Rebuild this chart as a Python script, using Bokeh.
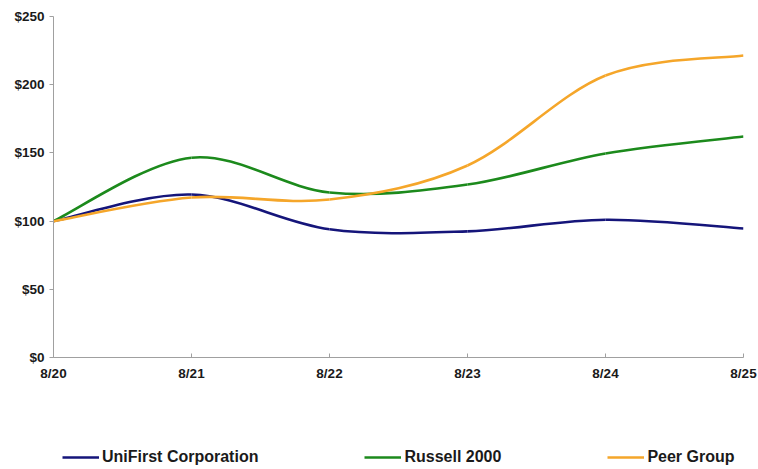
from bokeh.plotting import figure
from bokeh.layouts import column
from bokeh.models import Legend, LegendItem, FixedTicker, Range1d, CustomJSTickFormatter
from bokeh.embed import file_html
from bokeh.resources import INLINE

years = ["8/20", "8/21", "8/22", "8/23", "8/24", "8/25"]
unifirst = [100, 119.5, 94, 92.5, 101, 94.6]
russell = [100, 146.5, 121, 126.8, 149.6, 162]
peer = [100, 117.3, 115.8, 140.8, 206.7, 221.4]
y_ticks = [0, 50, 100, 150, 200, 250]

names = ["UniFirst Corporation", "Russell 2000", "Peer Group"]
colors = ["#15157a", "#1c8a1c", "#f5a62a"]
series = [unifirst, russell, peer]
LINE_W = 2.6

p = figure(width=758, height=400, output_backend="svg", toolbar_location=None,
           x_range=Range1d(0, len(years) - 1), y_range=Range1d(0, 250),
           min_border_left=53, min_border_right=15, min_border_top=16, min_border_bottom=43)
p.outline_line_color = None
p.xgrid.visible = False
p.ygrid.visible = False


def smooth(vals):
    xs = list(range(len(vals)))
    n = len(vals)
    x0, y0, x1, y1, cx0, cy0, cx1, cy1 = [], [], [], [], [], [], [], []
    for i in range(n - 1):
        pm = i - 1 if i > 0 else i
        pp = i + 2 if i + 2 < n else i + 1
        x0.append(xs[i]); y0.append(vals[i])
        x1.append(xs[i + 1]); y1.append(vals[i + 1])
        cx0.append(xs[i] + (xs[i + 1] - xs[pm]) / 6.0)
        cy0.append(vals[i] + (vals[i + 1] - vals[pm]) / 6.0)
        cx1.append(xs[i + 1] - (xs[pp] - xs[i]) / 6.0)
        cy1.append(vals[i + 1] - (vals[pp] - vals[i]) / 6.0)
    return dict(x0=x0, y0=y0, x1=x1, y1=y1, cx0=cx0, cy0=cy0, cx1=cx1, cy1=cy1)


for vals, col in zip(series, colors):
    p.bezier(source=smooth(vals), x0="x0", y0="y0", x1="x1", y1="y1",
             cx0="cx0", cy0="cy0", cx1="cx1", cy1="cy1",
             line_color=col, line_width=LINE_W)

# axes
p.xaxis.ticker = FixedTicker(ticks=list(range(len(years))))
p.xaxis.major_label_overrides = {i: y for i, y in enumerate(years)}
p.xaxis.minor_tick_line_color = None
p.xaxis.major_tick_in = 4
p.xaxis.major_tick_out = 0
p.xaxis.axis_line_color = "#a0a0a0"
p.xaxis.major_tick_line_color = "#a0a0a0"
p.xaxis.major_label_text_font = "Liberation Sans"
p.xaxis.major_label_text_font_style = "bold"
p.xaxis.major_label_text_font_size = "13.5px"
p.xaxis.major_label_text_color = "#1a1a1a"
p.xaxis.major_label_standoff = 8

p.yaxis.ticker = FixedTicker(ticks=y_ticks)
p.yaxis.formatter = CustomJSTickFormatter(code="return '$' + tick;")
p.yaxis.minor_tick_line_color = None
p.yaxis.major_tick_in = 0
p.yaxis.major_tick_out = 4
p.yaxis.axis_line_color = "#a0a0a0"
p.yaxis.major_tick_line_color = "#a0a0a0"
p.yaxis.major_label_text_font = "Liberation Sans"
p.yaxis.major_label_text_font_style = "bold"
p.yaxis.major_label_text_font_size = "13.5px"
p.yaxis.major_label_text_color = "#1a1a1a"
p.yaxis.major_label_standoff = 5

# legend strip below the chart (series drawn outside its view so only the legend shows)
lg = figure(width=758, height=69, output_backend="svg", toolbar_location=None,
            x_range=Range1d(0, len(years) - 1), y_range=Range1d(1000, 1001),
            x_axis_type=None, y_axis_type=None,
            min_border_left=0, min_border_right=0, min_border_top=0, min_border_bottom=0)
lg.outline_line_color = None
lg.xgrid.visible = False
lg.ygrid.visible = False
items = []
for vals, name, col in zip(series, names, colors):
    r = lg.line(x=list(range(len(years))), y=vals, line_color=col, line_width=LINE_W)
    items.append(LegendItem(label=name, renderers=[r]))

legend = Legend(items=items, orientation="horizontal", location=(9, 2),
                spacing=106, padding=0, margin=0, glyph_width=37, glyph_height=20,
                label_standoff=3, border_line_color=None, background_fill_alpha=0,
                label_text_font="Liberation Sans", label_text_font_size="16px",
                label_text_font_style="bold", label_text_color="#1a1a1a")
lg.add_layout(legend, "center")

layout = column(p, lg, spacing=0)
open("out.html", "w").write(file_html(layout, INLINE))
